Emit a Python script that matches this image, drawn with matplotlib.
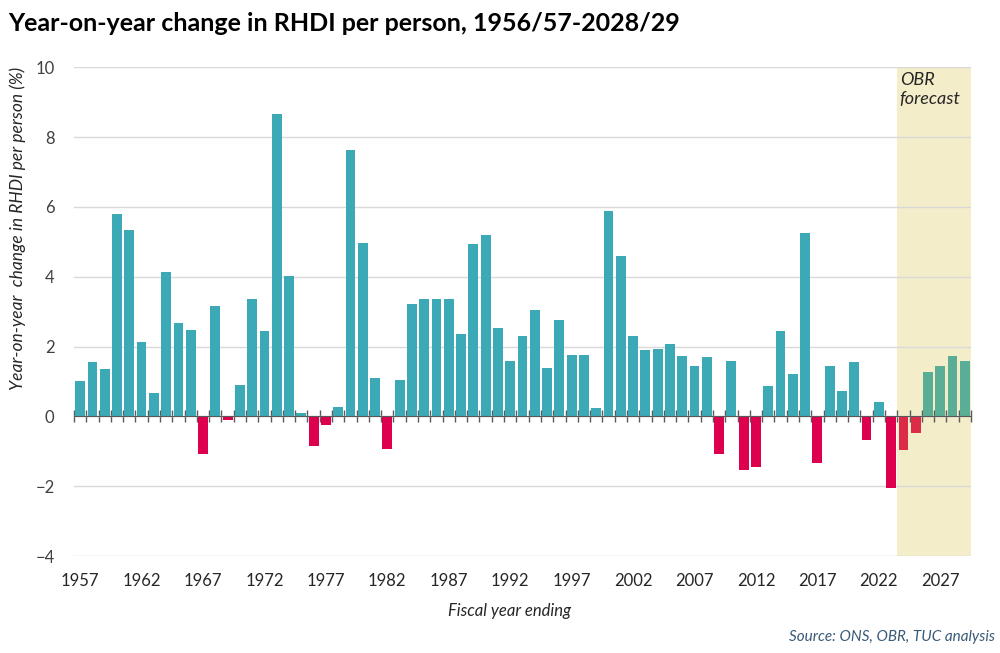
import numpy as np
import matplotlib.pyplot as plt

plt.rcParams['font.family'] = ['Lato', 'DejaVu Sans']

# --- data ---
years = list(range(1957, 2030))
change = [
    1.02, 1.55, 1.36, 5.79, 5.34, 2.14, 0.68, 4.13, 2.67, 2.48,   # 1957-1966
    -1.08, 3.16, -0.10, 0.91, 3.35, 2.45, 8.65, 4.02, 0.09, -0.86,  # 1967-1976
    -0.25, 0.27, 7.64, 4.97, 1.09, -0.93, 1.05, 3.23, 3.35, 3.35,  # 1977-1986
    3.35, 2.37, 4.93, 5.20, 2.53, 1.59, 2.30, 3.05, 1.40, 2.75,    # 1987-1996
    1.77, 1.77, 0.23, 5.87, 4.58, 2.30, 1.89, 1.92, 2.08, 1.73,    # 1997-2006
    1.44, 1.69, -1.08, 1.59, -1.53, -1.45, 0.87, 2.45, 1.21, 5.26,  # 2007-2016
    -1.34, 1.44, 0.72, 1.55, -0.67, 0.42, -2.06, -0.97, -0.48, 1.28,  # 2017-2026
    1.44, 1.73, 1.59,                                               # 2027-2029
]
forecast_start = 2024
label_years = list(range(1957, 2030, 5))
y_ticks = [-4, -2, 0, 2, 4, 6, 8, 10]

# --- colours ---
teal = '#3BAAB6'
crimson = '#DC004E'
fc_green = '#5BAE96'
fc_red = '#DC2B46'
shade = '#F4EDCA'

yrs = np.array(years)
vals = np.array(change)
is_fc = yrs >= forecast_start
colors = np.where(is_fc,
                  np.where(vals >= 0, fc_green, fc_red),
                  np.where(vals >= 0, teal, crimson))

fig = plt.figure(figsize=(10, 6.53), dpi=100)
ax = fig.add_axes([0.074, 0.1485, 0.897, 0.7485])

ax.axvspan(forecast_start - 0.5, yrs[-1] + 0.5, color=shade, zorder=0, lw=0)
ax.bar(yrs, vals, width=0.8, color=colors, zorder=2)

ax.set_xlim(yrs[0] - 0.5, yrs[-1] + 0.5)
ax.set_ylim(-4, 10)
ax.set_yticks(y_ticks)
ax.grid(axis='y', color='#D9D9D9', lw=1, zorder=1)
ax.tick_params(axis='y', length=0, labelsize=12, colors='#404040', pad=14)

for s in ['top', 'right', 'left']:
    ax.spines[s].set_visible(False)
ax.spines['bottom'].set_position(('data', 0))
ax.spines['bottom'].set_color('#595959')
ax.spines['bottom'].set_zorder(3)
ax.set_xticks(np.arange(yrs[0] - 0.5, yrs[-1] + 1, 1.0))
ax.tick_params(axis='x', direction='inout', length=9, width=1, color='#595959',
               labelbottom=False)

# year labels along the bottom edge
sec = ax.secondary_xaxis('bottom')
sec.set_xticks(label_years)
sec.tick_params(length=0, labelsize=12, colors='#262626', pad=12)
sec.spines['bottom'].set_visible(False)

fig.text(0.018, 0.65, 'Year-on-year  change in RHDI per person (%)', rotation=90,
         ha='center', va='center', fontsize=12.5, style='italic', color='#262626')
fig.text(0.51, 0.057, 'Fiscal year ending', ha='center', fontsize=12,
         style='italic', color='#262626')

ax.text(forecast_start - 0.3, 9.85, 'OBR\nforecast', ha='left', va='top',
        fontsize=13, style='italic', color='#262626', linespacing=1.2)

fig.text(0.008, 0.952, 'Year-on-year change in RHDI per person, 1956/57-2028/29',
         fontsize=18, fontweight='bold', color='#000000')
fig.text(0.995, 0.018, 'Source: ONS, OBR, TUC analysis', ha='right',
         fontsize=11, style='italic', color='#3A5A78')

fig.savefig('out.png', dpi=100)
